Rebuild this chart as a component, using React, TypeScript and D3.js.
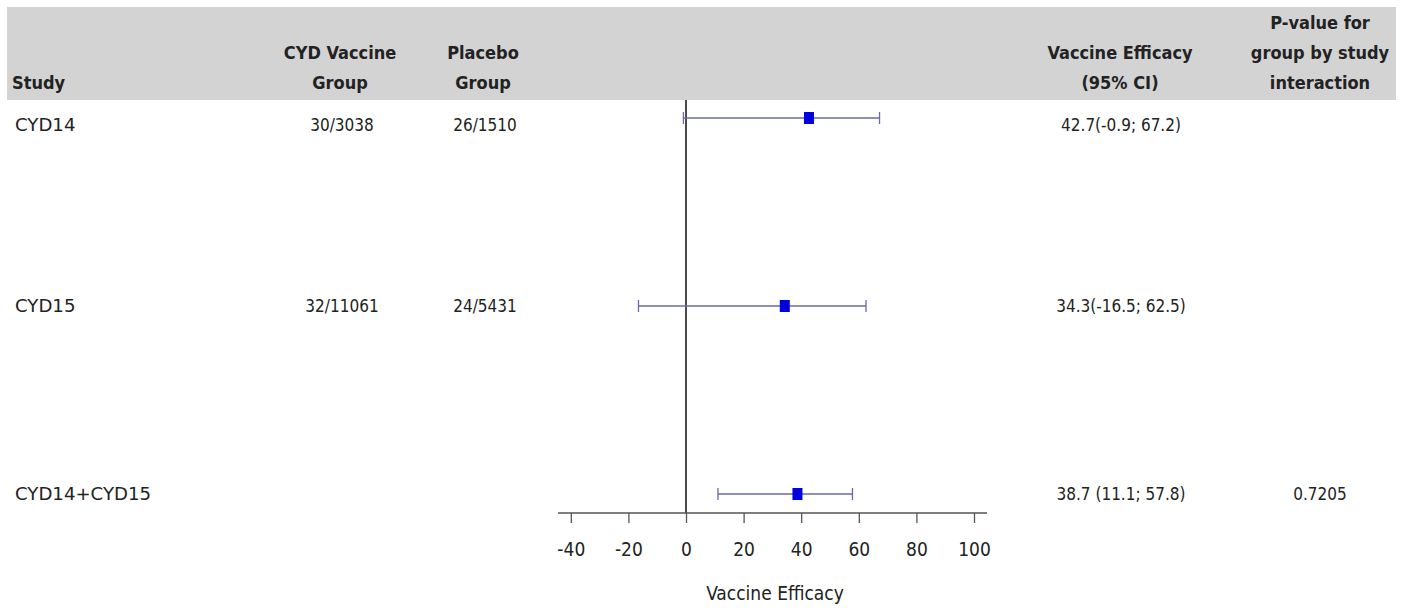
import { useRef, useEffect } from 'react';
import * as d3 from 'd3';

// table rows
const studies = ['CYD14', 'CYD15', 'CYD14+CYD15'];
const vaccineGroup = ['30/3038', '32/11061', ''];
const placeboGroup = ['26/1510', '24/5431', ''];
const efficacy = [42.7, 34.3, 38.7];
const lowerCI = [-0.9, -16.5, 11.1];
const upperCI = [67.2, 62.5, 57.8];
const efficacyText = ['42.7(-0.9; 67.2)', '34.3(-16.5; 62.5)', '38.7 (11.1; 57.8)'];
const pValues = ['', '', '0.7205'];
const xTicks = [-40, -20, 0, 20, 40, 60, 80, 100];

export default function App() {
  const svgRef = useRef<SVGSVGElement>(null);

  useEffect(() => {
    const w = 1401;
    const h = 610;
    const svg = d3.select(svgRef.current);
    svg.selectAll('*').remove();
    svg.attr('width', w).attr('height', h).style('display', 'block');

    const font = "'DejaVu Sans Condensed', 'DejaVu Sans', sans-serif";

    // scales
    const xScale = d3.scaleLinear().domain([0, 100]).range([686, 974]);
    const yScale = d3.scalePoint<string>().domain(studies).range([118, 494]);
    const axisY = 513;
    // first row's text sits a bit below its CI line in the original
    const textShift = [13, 6, 6];

    // header band
    svg
      .append('rect')
      .attr('x', 7)
      .attr('y', 7)
      .attr('width', 1389)
      .attr('height', 93)
      .attr('fill', '#d3d3d3');

    const header = svg
      .append('g')
      .attr('font-family', font)
      .attr('font-weight', 'bold')
      .attr('font-size', 18)
      .attr('fill', '#222');

    const headerCols = [
      { x: 12, anchor: 'start', lines: ['Study'] },
      { x: 340, anchor: 'middle', lines: ['CYD Vaccine', 'Group'] },
      { x: 483, anchor: 'middle', lines: ['Placebo', 'Group'] },
      { x: 1120, anchor: 'middle', lines: ['Vaccine Efficacy', '(95% CI)'] },
      { x: 1320, anchor: 'middle', lines: ['P-value for', 'group by study', 'interaction'] },
    ];
    headerCols.forEach((c) => {
      const n = c.lines.length;
      c.lines.forEach((l, i) => {
        header
          .append('text')
          .attr('x', c.x)
          .attr('y', 89 - (n - 1 - i) * 30)
          .attr('text-anchor', c.anchor)
          .text(l);
      });
    });

    // row text
    const rows = svg
      .append('g')
      .attr('font-family', font)
      .attr('font-size', 17)
      .attr('fill', '#222');

    studies.forEach((s, i) => {
      const y = (yScale(s) as number) + textShift[i];
      rows
        .append('text')
        .attr('transform', `translate(15,${y}) scale(1.12,1)`)
        .attr('font-size', 18)
        .text(s);
      rows.append('text').attr('x', 342).attr('y', y).attr('text-anchor', 'middle').text(vaccineGroup[i]);
      rows.append('text').attr('x', 485).attr('y', y).attr('text-anchor', 'middle').text(placeboGroup[i]);
      rows.append('text').attr('x', 1121).attr('y', y).attr('text-anchor', 'middle').text(efficacyText[i]);
      rows.append('text').attr('x', 1320).attr('y', y).attr('text-anchor', 'middle').text(pValues[i]);
    });

    // reference line at 0
    svg
      .append('line')
      .attr('x1', xScale(0))
      .attr('x2', xScale(0))
      .attr('y1', 100)
      .attr('y2', axisY)
      .attr('stroke', '#111')
      .attr('stroke-width', 1.5);

    // CI lines
    const ci = svg.append('g').attr('stroke', '#6a6aa8').attr('stroke-width', 1.3);
    studies.forEach((s, i) => {
      const y = yScale(s) as number;
      ci.append('line').attr('x1', xScale(lowerCI[i])).attr('x2', xScale(upperCI[i])).attr('y1', y).attr('y2', y);
      ci.append('line').attr('x1', xScale(lowerCI[i])).attr('x2', xScale(lowerCI[i])).attr('y1', y - 6).attr('y2', y + 6);
      ci.append('line').attr('x1', xScale(upperCI[i])).attr('x2', xScale(upperCI[i])).attr('y1', y - 6).attr('y2', y + 6);
    });

    svg
      .selectAll()
      .data(studies)
      .enter()
      .append('rect')
      .attr('x', (d, i) => xScale(efficacy[i]) - 5)
      .attr('y', (d) => (yScale(d) as number) - 6)
      .attr('width', 10)
      .attr('height', 12)
      .attr('fill', '#0000dd');

    // x axis
    const xAxis = d3
      .axisBottom(xScale)
      .tickValues(xTicks)
      .tickSize(10)
      .tickPadding(20)
      .tickFormat((d) => String(d));
    const ax = svg.append('g').attr('transform', `translate(0, ${axisY})`).call(xAxis);
    ax.select('.domain').remove();
    ax.append('line')
      .attr('x1', 558)
      .attr('x2', 987)
      .attr('stroke', '#555')
      .attr('stroke-width', 1.3);
    ax.selectAll('.tick line').attr('stroke', '#555').attr('stroke-width', 1.3);
    ax.selectAll('.tick text')
      .attr('font-family', font)
      .attr('font-size', 19)
      .attr('fill', '#222');

    svg
      .append('text')
      .attr('x', 775)
      .attr('y', 600)
      .attr('text-anchor', 'middle')
      .attr('font-family', font)
      .attr('font-size', 19)
      .attr('fill', '#222')
      .text('Vaccine Efficacy');
  }, []);

  return <svg ref={svgRef} style={{ position: 'absolute', left: 0, top: 0 }}></svg>;
}
